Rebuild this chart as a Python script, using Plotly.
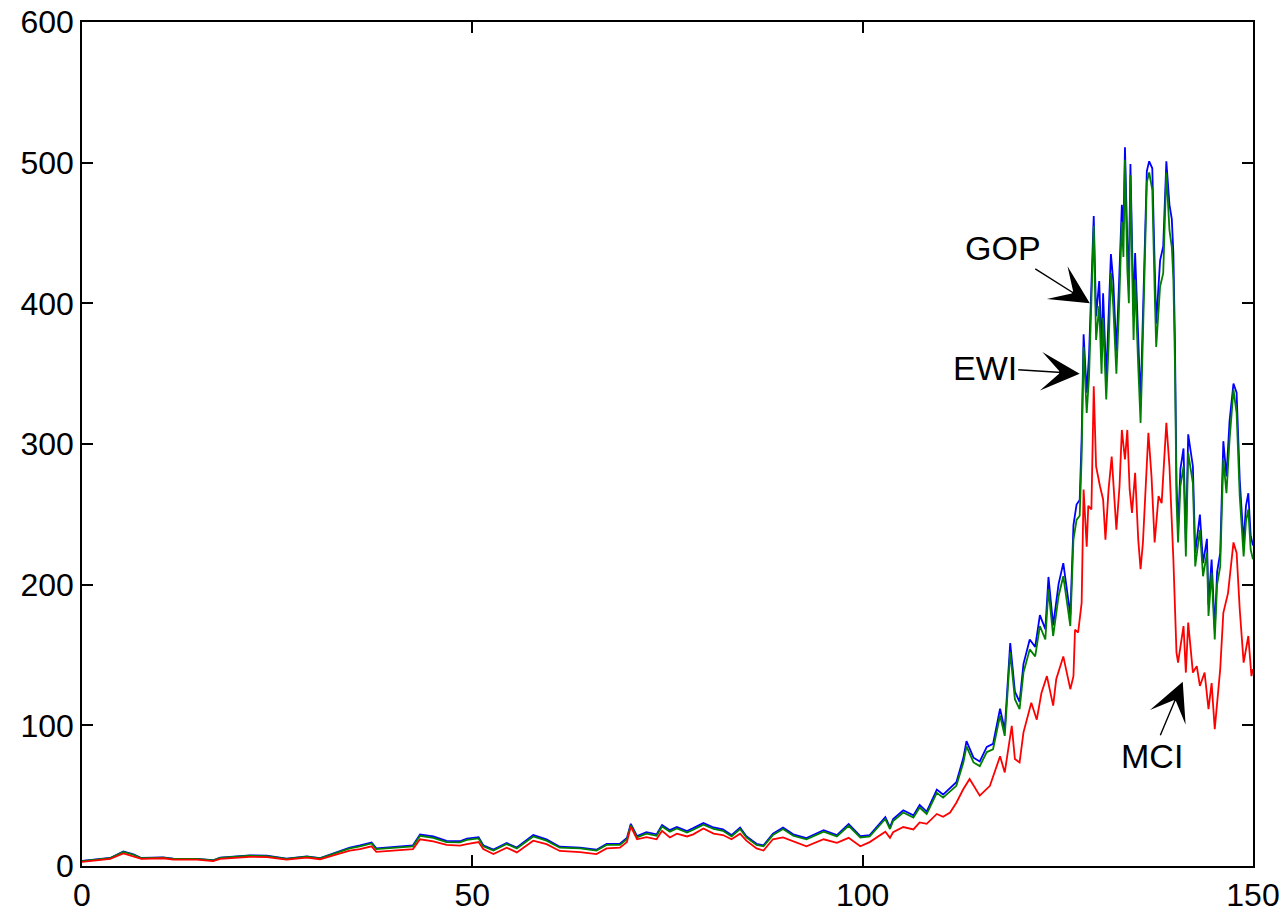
import plotly.graph_objects as go

# ---------------- data ----------------
x_ewi = [0, 2.3, 3.6, 5.3, 6.6, 7.6, 10.4, 11.7, 14.7, 16.8,
         17.7, 21.5, 23.7, 26.2, 28.8, 30.5, 32.2, 34.3, 35.6, 37.1,
         37.7, 40.3, 42.4, 43.3, 45, 46.7, 48.4, 49.3, 50.8, 51.4,
         52.7, 54.4, 55.7, 57.8, 59.5, 61.2, 63.8, 65.9, 67.2, 68.9,
         69.8, 70.3, 71.1, 72.3, 73.6, 74.3, 75.3, 76.2, 77.5, 78.3,
         79.6, 80.9, 82.1, 83.2, 84.3, 85.1, 86.4, 87.3, 88.5, 89.8,
         91.1, 92.8, 95, 96.7, 98.2, 99.7, 100.9, 102.9, 103.5, 103.9,
         105.2, 106.5, 107.3, 108.2, 109.5, 110.3, 111.2, 112.0, 112.9, 113.3,
         114.2, 115.0, 115.9, 116.7, 117.6, 118.2, 118.9, 119.5, 120.1, 120.6,
         121.4, 122.1, 122.7, 123.4, 123.8, 124.4, 125.1, 125.7, 126.3, 126.6,
         127.0, 127.4, 127.8, 128.05, 128.3, 128.7, 129.0, 129.3, 129.6, 129.9,
         130.3, 130.6, 130.8, 131.2, 131.5, 131.8, 132.1, 132.5, 132.8, 133.2,
         133.4, 133.6, 133.9, 134.1, 134.3, 134.7, 134.9, 135.3, 135.6, 135.8,
         136.1, 136.4, 136.7, 137.1, 137.4, 137.6, 138.1, 138.5, 138.9, 139.3,
         139.6, 139.8, 140.0, 140.2, 140.4, 140.7, 141.1, 141.4, 141.7, 142.3,
         142.6, 143.2, 143.6, 144.1, 144.3, 144.7, 145.1, 145.4, 145.8, 146.2,
         146.6, 147.0, 147.5, 147.9, 148.3, 148.8, 149.1, 149.4, 149.7, 150.0]

ewi = [3.5, 5, 5.5, 10, 8, 5.5, 6, 5, 5, 4,
       5.7, 7.3, 7, 5, 6.6, 5.4, 8.5, 12.5, 14, 16,
       12, 13, 14, 21.5, 20, 17, 16.8, 18.5, 19.6, 14,
       11, 15.6, 12.5, 21, 18, 13, 12.5, 11, 15, 15,
       19, 29, 20.3, 23, 21.5, 28, 24.4, 26.7, 23.8, 25.8,
       29.3, 26.3, 25, 21, 26.3, 20.3, 15, 14, 22, 26.3,
       21.5, 19, 24.4, 21, 28.6, 20.3, 21, 33.4, 26.3, 32,
       38, 34.5, 41.6, 37, 52, 48.6, 53, 57, 73.6, 85,
       73.6, 71, 81, 83, 107, 92.5, 152, 118.6, 111.5, 137.5,
       154, 149, 170.6, 161, 196.7, 163.5, 192, 206, 182.5, 170.6,
       232, 246, 249, 291, 369, 322, 348, 402.6, 455, 374,
       398, 350, 389.6, 331.6, 369, 421.5, 398, 350, 390.7, 458,
       433, 502, 424, 400, 491, 374, 417, 355, 315, 355,
       414.5, 486, 493, 480.7, 409.7, 369, 412, 421.5, 493, 452,
       440, 417, 358, 260.6, 230, 270, 284, 220, 293.7, 272,
       213, 239, 206, 222.6, 177.7, 208.5, 161, 200, 213, 289,
       265, 303, 338.7, 322, 263, 220, 245, 253.5, 225, 218]

gop = [3.6, 5.1, 5.7, 10.3, 8.2, 5.7, 6.2, 5.2, 5.1, 4.1,
       5.9, 7.6, 7.3, 5.2, 6.9, 5.6, 8.9, 13, 14.6, 16.7,
       12.6, 13.6, 14.7, 22.4, 21, 17.8, 17.6, 19.4, 20.5, 14.7,
       11.6, 16.3, 13.1, 22, 18.9, 13.7, 13.1, 11.6, 15.7, 15.8,
       19.9, 30, 21.2, 24, 22.5, 29.2, 25.5, 27.8, 24.9, 26.9,
       30.5, 27.4, 26.1, 22, 27.4, 21.2, 15.8, 14.7, 23, 27.4,
       22.5, 19.9, 25.5, 22, 29.8, 21.2, 22, 34.8, 27.5, 33.4,
       39.6, 36, 43.4, 38.7, 54.3, 50.8, 55.4, 59.6, 76.9, 88.8,
       77, 74.3, 84.7, 86.8, 111.8, 96.8, 158.5, 124, 116.6, 143.7,
       161, 155.8, 178.3, 168.4, 205.5, 171, 200.6, 215.3, 190.8, 178.3,
       242.4, 257, 260.2, 304, 378, 336.5, 363.6, 413, 462, 390.8,
       415.9, 365.8, 407.1, 346.5, 385.6, 435, 415.9, 365.8, 408.3, 470,
       452.5, 511, 443, 418, 499, 391, 435.8, 371, 329.2, 371,
       433.2, 494, 501, 496, 428, 385.6, 430.5, 440.5, 501, 470,
       459.8, 435.8, 374, 272.3, 240.4, 282.2, 296.8, 229.9, 306.9, 284.2,
       222.6, 249.8, 215.3, 232.6, 185.7, 217.9, 168.2, 209, 222.6, 302,
       277, 316.6, 343, 336.5, 274.8, 229.9, 256, 265, 235, 227.8]

x_mci = [0, 2.3, 3.6, 5.3, 6.6, 7.6, 10.4, 11.7, 14.7, 16.8,
         17.7, 21.5, 23.7, 26.2, 28.8, 30.5, 32.2, 34.3, 35.6, 37.1,
         37.7, 40.3, 42.4, 43.3, 45, 46.7, 48.4, 49.3, 50.8, 51.4,
         52.7, 54.4, 55.7, 57.8, 59.5, 61.2, 63.8, 65.9, 67.2, 68.9,
         69.8, 70.3, 71.1, 72.3, 73.6, 74.3, 75.3, 76.2, 77.5, 78.3,
         79.6, 80.9, 82.1, 83.2, 84.3, 85.1, 86.4, 87.3, 88.5, 89.8,
         91.1, 92.8, 95, 96.7, 98.2, 99.7, 100.9, 102.9, 103.5, 103.9,
         105.2, 106.5, 107.3, 108.2, 109.5, 110.3, 111.2, 112.0, 112.9, 113.7,
         115.0, 116.3, 117.6, 118.2, 119.1, 119.5, 120.1, 120.6, 121.6, 122.3,
         122.9, 123.6, 124.4, 124.8, 125.7, 126.6, 127.0, 127.2, 127.6, 128.05,
         128.3, 128.7, 128.9, 129.3, 129.6, 129.9, 130.4, 130.8, 131.1, 131.5,
         131.9, 132.1, 132.5, 132.9, 133.2, 133.6, 133.9, 134.2, 134.5, 134.9,
         135.3, 135.6, 135.9, 136.6, 137.0, 137.4, 137.9, 138.3, 138.9, 139.3,
         139.8, 140.2, 140.4, 141.1, 141.4, 141.7, 142.3, 142.8, 143.2, 143.8,
         144.3, 144.7, 145.1, 145.8, 146.2, 146.8, 147.5, 147.9, 148.3, 148.8,
         149.4, 149.8, 150.0]

mci = [3, 4.5, 5, 9, 7, 5, 5.5, 4.5, 4.5, 3.5,
       5, 6.5, 6.3, 4.5, 6, 4.8, 7.5, 11, 12, 14,
       10, 11, 12, 19, 17.5, 15, 14.5, 15.6, 17, 12,
       8.5, 13, 9.7, 18, 15.5, 10.7, 9.9, 8.5, 12.5, 13,
       17, 28, 19, 20.5, 19, 25, 20.3, 23, 21, 22.5,
       26.7, 23, 22, 19, 23, 18, 12.5, 11, 19, 20.3,
       17.5, 14, 19, 16.5, 20, 14, 17, 24.4, 20, 24,
       27.7, 26, 31, 30, 37, 35, 38, 45, 54.7, 61.8,
       50, 57, 78, 66.5, 99.6, 76, 73.6, 95, 116, 104,
       123, 135, 114, 133, 149, 125.7, 135, 168, 166, 187,
       267.7, 227, 256, 253.5, 341, 284, 270, 260.6, 232, 267.7,
       291, 275, 239, 270, 310, 289, 310, 267.7, 251, 279.5,
       232, 211, 230, 308, 277, 230, 263, 258, 315, 284,
       218, 151.7, 144.6, 170.6, 137.5, 173, 137.5, 142, 128, 137.5,
       111.5, 130, 97.3, 140, 180, 194, 230, 222.6, 182.5, 144.6,
       163.5, 135, 140]

x_ticks = [0, 50, 100, 150]
y_ticks = [0, 100, 200, 300, 400, 500, 600]

# ---------------- figure ----------------
FONT = "Liberation Sans, Arial, sans-serif"
fig = go.Figure()
fig.add_trace(go.Scatter(x=x_ewi, y=gop, mode="lines", name="GOP",
                         line=dict(color="#0000FF", width=1.8)))
fig.add_trace(go.Scatter(x=x_ewi, y=ewi, mode="lines", name="EWI",
                         line=dict(color="#008000", width=1.8)))
fig.add_trace(go.Scatter(x=x_mci, y=mci, mode="lines", name="MCI",
                         line=dict(color="#FF0000", width=1.8)))

arrow_common = dict(showarrow=True, arrowhead=3, arrowsize=4.6, arrowwidth=1.4,
                    arrowcolor="black", font=dict(family=FONT, size=34, color="black"))
fig.add_annotation(x=129.1, y=400, text="GOP", ax=-87, ay=-55, **arrow_common)
fig.add_annotation(x=127.8, y=350, text="EWI", ax=-95, ay=-6, **arrow_common)
fig.add_annotation(x=141.0, y=131, text="MCI", ax=-31, ay=74, **arrow_common)

axis_common = dict(showgrid=False, zeroline=False, showline=True, linecolor="black",
                   linewidth=1.5, mirror="ticks", ticks="inside", ticklen=11,
                   tickwidth=1.5, tickcolor="black", automargin=False,
                   tickfont=dict(family=FONT, size=32, color="black"))
fig.update_xaxes(range=[0, 150], tickvals=x_ticks, **axis_common)
fig.update_yaxes(range=[0, 600], tickvals=y_ticks, **axis_common)

fig.update_layout(width=1288, height=914, showlegend=False,
                  plot_bgcolor="white", paper_bgcolor="white",
                  margin=dict(l=82, r=35, t=22, b=48))

fig.write_html("out.html")
